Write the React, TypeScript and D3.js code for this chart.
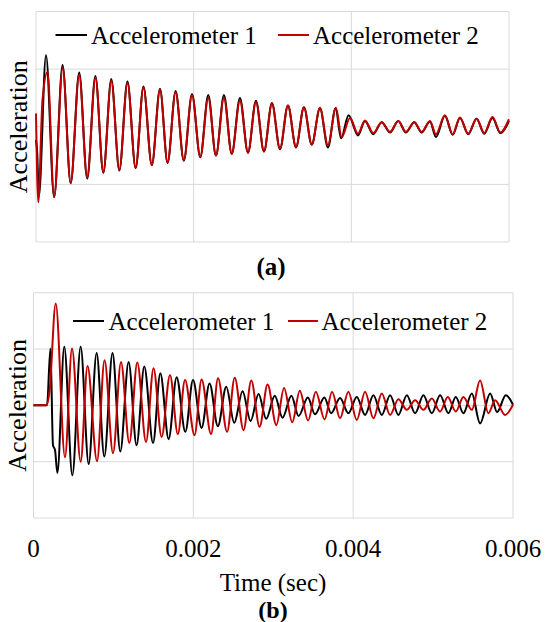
import React from 'react';
import * as d3 from 'd3';

// ---------- DATA ----------
const xTicks = [0, 0.002, 0.004, 0.006];
const yGrid = [-2, -1, 0, 1, 2];
const seriesNames = ['Accelerometer 1', 'Accelerometer 2'];
const seriesColors = ['#000000', '#C00000'];
const panelLabels = ['(a)', '(b)'];
const xTitle = 'Time (sec)';
const yTitle = 'Acceleration';

// extrema: [time (ms), acceleration (arb. units)]
const topAcc1: [number, number][] = [
  [0, -0.23], [0.015, -0.44], [0.036, -1.21], [0.127, 1.24], [0.23, -1.22], [0.337, 1.07],
  [0.44, -0.98], [0.548, 0.94], [0.65, -0.9], [0.753, 0.88], [0.854, -0.8], [0.955, 0.83],
  [1.057, -0.76], [1.16, 0.79], [1.264, -0.72], [1.363, 0.7], [1.469, -0.67], [1.573, 0.66],
  [1.669, -0.63], [1.771, 0.62], [1.875, -0.59], [1.979, 0.57], [2.084, -0.53], [2.185, 0.55],
  [2.283, -0.5], [2.384, 0.55], [2.483, -0.47], [2.587, 0.5], [2.689, -0.45], [2.79, 0.45],
  [2.892, -0.43], [2.993, 0.41], [3.095, -0.39], [3.196, 0.37], [3.298, -0.36], [3.399, 0.34],
  [3.498, -0.31], [3.602, 0.32], [3.703, -0.36], [3.8, 0.32], [3.87, -0.2], [3.965, 0.2],
  [4.084, -0.15], [4.173, 0.1], [4.278, -0.13], [4.385, 0.08], [4.49, -0.1], [4.595, 0.1],
  [4.693, -0.1], [4.798, 0.08], [4.892, -0.1], [4.997, 0.09], [5.073, -0.18], [5.187, 0.19],
  [5.285, -0.14], [5.378, 0.15], [5.483, -0.13], [5.589, 0.14], [5.686, -0.12], [5.79, 0.15],
  [5.891, -0.11], [5.999, 0.1],
];
const topAcc2: [number, number][] = [
  [0, 0.23], [0.029, -1.31], [0.082, 0.46], [0.146, 0.95], [0.23, -1.22], [0.339, 1.02],
  [0.44, -0.98], [0.548, 0.9], [0.648, -0.88], [0.755, 0.85], [0.854, -0.79], [0.955, 0.8],
  [1.057, -0.75], [1.16, 0.76], [1.264, -0.71], [1.363, 0.68], [1.469, -0.66], [1.573, 0.64],
  [1.669, -0.62], [1.771, 0.6], [1.875, -0.58], [1.979, 0.55], [2.084, -0.52], [2.185, 0.5],
  [2.283, -0.5], [2.384, 0.5], [2.483, -0.47], [2.587, 0.45], [2.689, -0.45], [2.79, 0.43],
  [2.892, -0.43], [2.993, 0.4], [3.095, -0.38], [3.196, 0.37], [3.298, -0.35], [3.399, 0.34],
  [3.498, -0.31], [3.602, 0.33], [3.703, -0.32], [3.805, 0.33], [3.877, -0.18], [3.983, 0.15],
  [4.084, -0.12], [4.173, 0.11], [4.278, -0.11], [4.385, 0.08], [4.49, -0.09], [4.595, 0.1],
  [4.693, -0.09], [4.798, 0.08], [4.892, -0.09], [4.997, 0.1], [5.073, -0.13], [5.187, 0.2],
  [5.285, -0.13], [5.378, 0.16], [5.483, -0.12], [5.589, 0.14], [5.686, -0.11], [5.79, 0.17],
  [5.891, -0.1], [5.999, 0.13],
];
const bottomAcc1: [number, number][] = [
  [0, 0], [0.169, 0], [0.212, 1.01], [0.244, -0.71], [0.269, -0.79], [0.299, -1.2],
  [0.385, 1.04], [0.486, -1.24], [0.59, 1.04], [0.69, -1.04], [0.79, 0.93], [0.886, -0.91],
  [0.989, 0.93], [1.086, -0.82], [1.19, 0.77], [1.29, -0.71], [1.386, 0.69], [1.496, -0.67],
  [1.587, 0.57], [1.691, -0.6], [1.791, 0.5], [1.9, -0.47], [1.996, 0.45], [2.103, -0.4],
  [2.203, 0.39], [2.307, -0.37], [2.412, 0.33], [2.512, -0.31], [2.616, 0.25], [2.716, -0.28],
  [2.816, 0.2], [2.912, -0.24], [3.019, 0.17], [3.116, -0.22], [3.227, 0.17], [3.317, -0.19],
  [3.433, 0.14], [3.523, -0.16], [3.64, 0.14], [3.724, -0.14], [3.836, 0.13], [3.94, -0.14],
  [4.045, 0.15], [4.149, -0.17], [4.253, 0.18], [4.358, -0.17], [4.462, 0.18], [4.566, -0.17],
  [4.671, 0.18], [4.775, -0.14], [4.879, 0.18], [4.984, -0.14], [5.088, 0.18], [5.192, -0.14],
  [5.284, 0.15], [5.379, -0.14], [5.485, 0.21], [5.588, -0.32], [5.714, 0.21], [5.801, -0.12],
  [5.91, 0.18], [6.0, 0.01],
];
const bottomAcc2: [number, number][] = [
  [0, 0], [0.163, 0], [0.2, 0.24], [0.278, 1.81], [0.394, -0.92], [0.482, 1.01],
  [0.59, -1.0], [0.676, 0.7], [0.795, -0.99], [0.889, 0.8], [0.995, -0.85], [1.095, 0.77],
  [1.199, -0.67], [1.299, 0.76], [1.408, -0.65], [1.502, 0.66], [1.603, -0.56], [1.708, 0.54],
  [1.806, -0.51], [1.896, 0.45], [2.015, -0.53], [2.103, 0.46], [2.222, -0.51], [2.309, 0.48],
  [2.422, -0.47], [2.518, 0.49], [2.628, -0.44], [2.725, 0.44], [2.829, -0.38], [2.929, 0.37],
  [3.039, -0.35], [3.135, 0.31], [3.238, -0.3], [3.332, 0.26], [3.436, -0.27], [3.533, 0.24],
  [3.642, -0.25], [3.736, 0.24], [3.836, -0.23], [3.94, 0.24], [4.045, -0.26], [4.149, 0.24],
  [4.253, -0.23], [4.358, 0.21], [4.462, -0.17], [4.566, 0.11], [4.671, -0.08], [4.775, 0.09],
  [4.879, -0.08], [4.984, 0.12], [5.088, -0.11], [5.184, 0.15], [5.284, -0.11], [5.379, 0.15],
  [5.485, -0.08], [5.588, 0.44], [5.692, -0.14], [5.776, 0.09], [5.901, -0.17], [6.0, 0.01],
];

const FONT = "'Liberation Serif', 'Times New Roman', serif";
const GRID = '#D9D9D9';

type Pt = [number, number];

interface PanelProps {
  x0: number; x1: number; y0: number; y1: number;
  acc1: Pt[]; acc2: Pt[];
  legendY: number; legendLines: [number, number][]; legendText: number[];
  yLabelX: number;
  showTicks: boolean;
}

function Panel(p: PanelProps) {
  const x = d3.scaleLinear().domain([0, 0.006]).range([p.x0, p.x1]);
  const y = d3.scaleLinear().domain([-2, 2]).range([p.y1, p.y0]);
  const line = d3
    .line<Pt>()
    .x((d) => x(d[0] / 1000))
    .y((d) => y(d[1]))
    .curve(d3.curveMonotoneX);
  const series = [p.acc1, p.acc2];
  const cy = (p.y0 + p.y1) / 2;
  return (
    <g>
      {yGrid.map((g) => (
        <line key={'h' + g} x1={p.x0} x2={p.x1} y1={y(g)} y2={y(g)} stroke={GRID} strokeWidth={1} />
      ))}
      {xTicks.map((t) => (
        <line key={'v' + t} x1={x(t)} x2={x(t)} y1={p.y0} y2={p.y1} stroke={GRID} strokeWidth={1} />
      ))}
      {series.map((s, i) => (
        <path key={i} d={line(s) || ''} fill="none" stroke={seriesColors[i]} strokeWidth={2} strokeLinejoin="round" />
      ))}
      {seriesNames.map((n, i) => (
        <g key={n}>
          <line x1={p.legendLines[i][0]} x2={p.legendLines[i][1]} y1={p.legendY - 9} y2={p.legendY - 9}
            stroke={seriesColors[i]} strokeWidth={2} />
          <text x={p.legendText[i]} y={p.legendY} fontFamily={FONT} fontSize={25} fill="#000">{n}</text>
        </g>
      ))}
      <text transform={`translate(${p.yLabelX},${cy}) rotate(-90)`} textAnchor="middle"
        fontFamily={FONT} fontSize={26} fill="#000">{yTitle}</text>
      {p.showTicks && xTicks.map((t) => (
        <text key={'t' + t} x={x(t)} y={557} textAnchor="middle" fontFamily={FONT} fontSize={25} fill="#000">
          {String(t)}
        </text>
      ))}
    </g>
  );
}

export default function App() {
  return (
    <svg width={545} height={622} style={{ position: 'absolute', left: 0, top: 0, background: '#fff' }}>
      <rect x={0} y={0} width={545} height={622} fill="#fff" />
      <Panel x0={36} x1={509} y0={11.5} y1={242} acc1={topAcc1} acc2={topAcc2}
        legendY={44} legendLines={[[55.5, 87], [278, 309]]} legendText={[91, 313]}
        yLabelX={27} showTicks={false} />
      <text x={271} y={275} textAnchor="middle" fontFamily={FONT} fontSize={25} fontWeight="bold">{panelLabels[0]}</text>
      <Panel x0={33.5} x1={513} y0={292.7} y1={518} acc1={bottomAcc1} acc2={bottomAcc2}
        legendY={330} legendLines={[[73, 104], [288, 318]]} legendText={[108.5, 321.5]}
        yLabelX={26} showTicks={true} />
      <text x={273} y={591} textAnchor="middle" fontFamily={FONT} fontSize={25}>{xTitle}</text>
      <text x={273} y={618} textAnchor="middle" fontFamily={FONT} fontSize={24} fontWeight="bold">{panelLabels[1]}</text>
    </svg>
  );
}
